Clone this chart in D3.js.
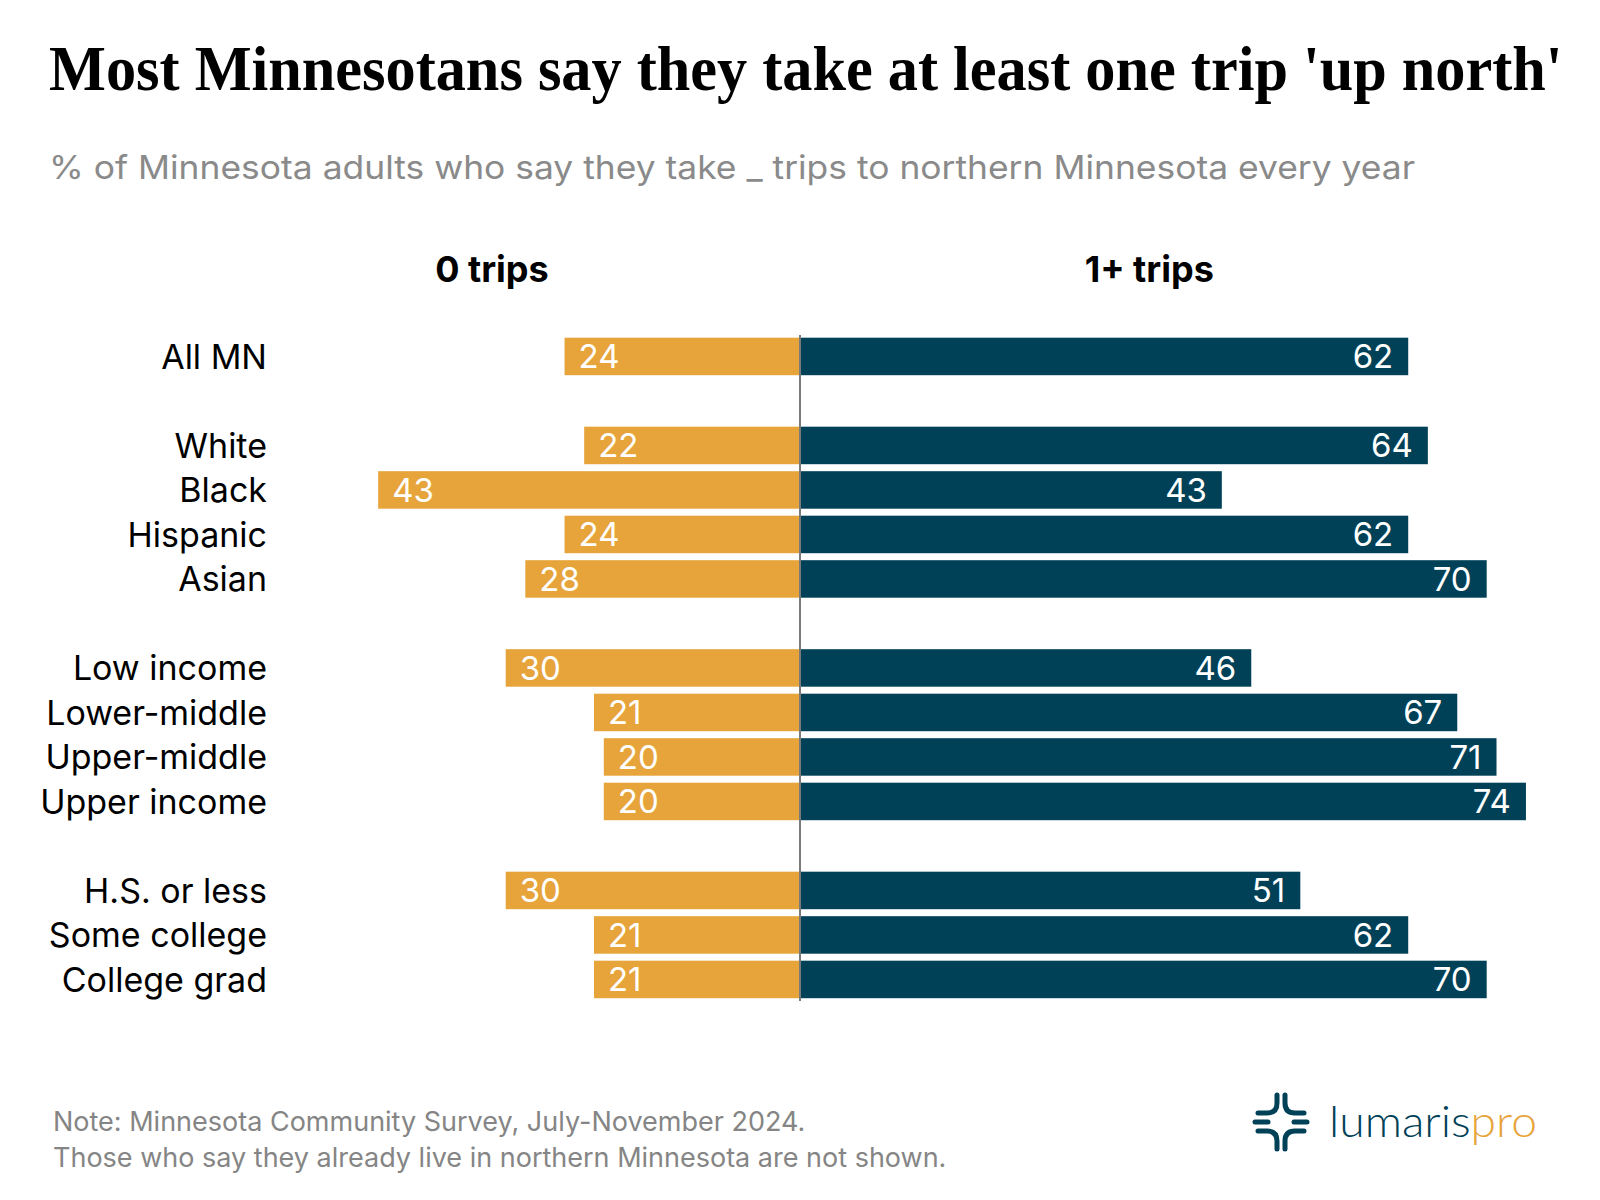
<!DOCTYPE html>
<html lang="en">
<head>
    <meta charset="utf-8">
    <title>Most Minnesotans say they take at least one trip 'up north'</title>
    <style>
        body {
            margin: 0;
            padding: 0;
            background: #fff;
        }
        text {
            font-family: Inter, "Noto Sans", sans-serif;
        }
    </style>
</head>
<body>

<div id="chart"></div>

<script src="https://cdn.jsdelivr.net/npm/d3@7"></script>

<script>
  // Data
  const categories = ["All MN", "White", "Black", "Hispanic", "Asian",
    "Low income", "Lower-middle", "Upper-middle", "Upper income",
    "H.S. or less", "Some college", "College grad"];
  const groupIndex = [0, 1, 1, 1, 1, 2, 2, 2, 2, 3, 3, 3];
  const zeroTrips = [24, 22, 43, 24, 28, 30, 21, 20, 20, 30, 21, 21];
  const onePlusTrips = [62, 64, 43, 62, 70, 46, 67, 71, 74, 51, 62, 70];
  const seriesNames = ["0 trips", "1+ trips"];

  const width = 1600, height = 1200;
  const orange = "#e6a43b", navy = "#014158";
  const centerX = 800;

  const svg = d3.select("#chart")
    .append("svg")
    .attr("width", width)
    .attr("height", height)
    .style("display", "block");

  svg.append("rect").attr("width", width).attr("height", height).attr("fill", "#fff");

  // one empty slot between groups
  const slots = categories.map((c, i) => i + groupIndex[i]);
  const nSlots = d3.max(slots) + 1;
  const step = 44.5;
  const y = d3.scaleBand()
    .domain(d3.range(nSlots))
    .range([334.2, 334.2 + nSlots * step])
    .paddingInner(0.157)
    .paddingOuter(0.0785);

  const xRight = d3.scaleLinear().domain([0, 100]).range([centerX, centerX + 981]);
  const xLeft = d3.scaleLinear().domain([0, 100]).range([centerX, centerX - 981]);

  const rows = categories.map((c, i) => ({
    name: c, slot: slots[i], zero: zeroTrips[i], plus: onePlusTrips[i]
  }));

  // Title (squeezed horizontally to look condensed) + subtitle
  const title = svg.append("text")
    .attr("x", 0).attr("y", 0)
    .style("font-family", "'Liberation Serif', 'DejaVu Serif', serif")
    .style("font-weight", "bold")
    .style("font-size", "64px")
    .attr("fill", "#000")
    .text("Most Minnesotans say they take at least one trip 'up north'");
  const titleW = title.node().getComputedTextLength();
  title.attr("transform", `translate(49,90) scale(${1514 / titleW},1)`);

  svg.append("text")
    .attr("x", 49).attr("y", 179)
    .attr("textLength", 1366)
    .attr("lengthAdjust", "spacingAndGlyphs")
    .style("font-size", "33px")
    .attr("fill", "#8a8a8a")
    .text("% of Minnesota adults who say they take _ trips to northern Minnesota every year");

  // Column headers
  svg.selectAll(".header")
    .data(seriesNames)
    .enter()
    .append("text")
    .attr("class", "header")
    .attr("x", (d, i) => i === 0 ? xLeft(31.4) : xRight(35.6))
    .attr("y", 282)
    .attr("text-anchor", "middle")
    .style("font-size", "36px")
    .style("font-weight", "bold")
    .attr("fill", "#000")
    .text(d => d);

  // Bars
  svg.selectAll(".bar-zero")
    .data(rows)
    .enter()
    .append("rect")
    .attr("class", "bar-zero")
    .attr("x", d => xLeft(d.zero))
    .attr("y", d => y(d.slot))
    .attr("width", d => centerX - xLeft(d.zero))
    .attr("height", y.bandwidth())
    .attr("fill", orange);

  svg.selectAll(".bar-plus")
    .data(rows)
    .enter()
    .append("rect")
    .attr("class", "bar-plus")
    .attr("x", centerX)
    .attr("y", d => y(d.slot))
    .attr("width", d => xRight(d.plus) - centerX)
    .attr("height", y.bandwidth())
    .attr("fill", navy);

  // Centre line
  svg.append("line")
    .attr("x1", centerX).attr("x2", centerX)
    .attr("y1", 335).attr("y2", 1001)
    .attr("stroke", "#7a7a7a")
    .attr("stroke-width", 2);

  // Value labels
  svg.selectAll(".lab-zero")
    .data(rows)
    .enter()
    .append("text")
    .attr("x", d => xLeft(d.zero) + 14)
    .attr("y", d => y(d.slot) + y.bandwidth() / 2)
    .attr("dy", "0.36em")
    .style("font-size", "33px")
    .attr("fill", "#fff")
    .text(d => d.zero);

  svg.selectAll(".lab-plus")
    .data(rows)
    .enter()
    .append("text")
    .attr("x", d => xRight(d.plus) - 15)
    .attr("y", d => y(d.slot) + y.bandwidth() / 2)
    .attr("dy", "0.36em")
    .attr("text-anchor", "end")
    .style("font-size", "33px")
    .attr("fill", "#fff")
    .text(d => d.plus);

  // Category labels
  svg.selectAll(".cat")
    .data(rows)
    .enter()
    .append("text")
    .attr("class", "cat")
    .attr("x", 267)
    .attr("y", d => y(d.slot) + y.bandwidth() / 2)
    .attr("dy", "0.36em")
    .attr("text-anchor", "end")
    .style("font-size", "34px")
    .attr("fill", "#000")
    .text(d => d.name);

  // Footer note
  const notes = ["Note: Minnesota Community Survey, July-November 2024.",
    "Those who say they already live in northern Minnesota are not shown."];
  svg.selectAll(".note")
    .data(notes)
    .enter()
    .append("text")
    .attr("x", 53)
    .attr("y", (d, i) => 1131 + i * 36)
    .style("font-size", "27px")
    .attr("fill", "#858585")
    .text(d => d);

  // Logo
  const logo = svg.append("g").attr("transform", "translate(1281,1122)");
  const arcs = [
    "M-4,-27 L-4,-19 Q-4,-9 -14,-9 L-23,-9",
    "M4,-27 L4,-19 Q4,-9 14,-9 L23,-9",
    "M-4,27 L-4,19 Q-4,9 -14,9 L-23,9",
    "M4,27 L4,19 Q4,9 14,9 L23,9",
    "M-26,0 L-13,0",
    "M13,0 L26,0"
  ];
  logo.selectAll("path")
    .data(arcs)
    .enter()
    .append("path")
    .attr("d", d => d)
    .attr("fill", "none")
    .attr("stroke", navy)
    .attr("stroke-width", 5)
    .attr("stroke-linecap", "round");

  const logoText = svg.append("text")
    .attr("x", 1329).attr("y", 1137)
    .attr("textLength", 208)
    .attr("lengthAdjust", "spacingAndGlyphs")
    .style("font-family", "Lato, sans-serif")
    .style("font-weight", 300)
    .style("font-size", "43px");
  logoText.append("tspan").attr("fill", navy).text("lumaris");
  logoText.append("tspan").attr("fill", orange).text("pro");
</script>

</body>
</html>
